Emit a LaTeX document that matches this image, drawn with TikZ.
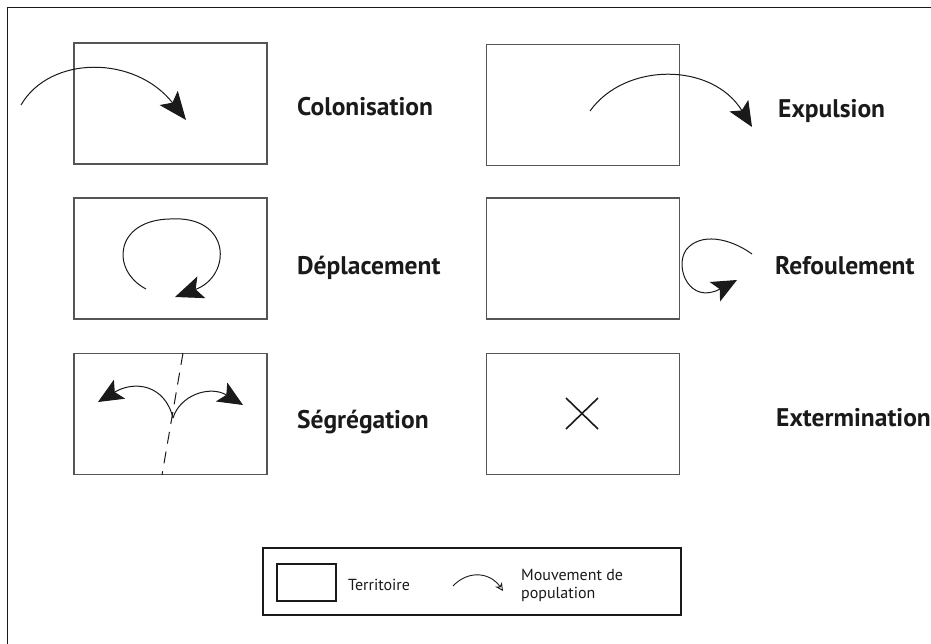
\documentclass[tikz,border=0pt]{standalone}
\usepackage{fontspec}
\setmainfont{PT Sans}
\usetikzlibrary{arrows.meta}
\definecolor{boxgrey}{HTML}{555555}
\definecolor{ink}{HTML}{1A1A1A}
\begin{document}
\begin{tikzpicture}[x=1pt,y=-1pt,
  terr/.style={draw=boxgrey,line width=1.3pt,minimum width=193pt,minimum height=121pt,inner sep=0pt},
  lab/.style={anchor=base west,inner sep=0pt,text=ink,font=\fontsize{25.5}{28}\selectfont\bfseries},
  move/.style={draw=ink,line width=1pt},
  bighead/.style={-{Stealth[length=28pt,width=23pt,inset=6pt]}},
  midhead/.style={-{Stealth[length=25pt,width=22pt,inset=5.5pt]}},
  legtext/.style={anchor=base west,inner sep=0pt,text=ink,font=\fontsize{16}{18}\selectfont}]
\useasboundingbox (0,0) rectangle (931,644);
\fill[white] (0,0) rectangle (931,644);
% outer frame
\draw[ink,line width=1.5pt] (7.5,650) -- (7.5,7.5) -- (940,7.5);

% territories
\node[terr] (b1) at (170.5,103.5) {};
\node[terr] (b2) at (583,105) {};
\node[terr] (b3) at (170.5,258.5) {};
\node[terr] (b4) at (583,258.5) {};
\node[terr] (b5) at (170.5,414) {};
\node[terr] (b6) at (583,414) {};

% labels
\node[lab] (l1) at (297,116) {Colonisation};
\node[lab] (l2) at (778,118) {Expulsion};
\node[lab] (l3) at (297,274) {Déplacement};
\node[lab] (l4) at (775,274) {Refoulement};
\node[lab] (l5) at (297,428) {Ségrégation};
\node[lab] (l6) at (776,426) {Extermination};

% colonisation
\draw[move,bighead] (21,105) .. controls (50,55) and (135,55) .. (186,120);
% expulsion
\draw[move,midhead] (590,111) .. controls (625,62) and (712,62) .. (752,127);
% deplacement
\draw[move,bighead] (146,289) .. controls (110,270) and (115,220) .. (170,219)
   .. controls (232,215) and (232,276) .. (175,297);
% refoulement
\draw[move,midhead] (752,254) .. controls (730,238) and (700,232) .. (686,250)
   .. controls (674,268) and (690,305) .. (737,280);
% segregation
\draw[ink,line width=1pt,dash pattern=on 12pt off 8pt] (183,353) -- (162,475);
\coordinate (j) at (173,418);
\draw[move,midhead] (j) .. controls (165,385) and (135,380) .. (98,402);
\draw[move,midhead] (j) .. controls (180,395) and (210,385) .. (243,405);
% extermination
\draw[ink,line width=1.6pt] (566,398) -- (598,429);
\draw[ink,line width=1.6pt] (598,398) -- (566,429);

% legend
\node[draw=ink,line width=1.2pt,minimum width=418pt,minimum height=67pt,inner sep=0pt] (leg) at (472,581.5) {};
\node[draw=ink,line width=1.1pt,minimum width=59pt,minimum height=37pt,inner sep=0pt] (lb) at (306.5,582.5) {};
\node[legtext] (lt) at (348,590) {Territoire};
\draw[ink,line width=0.9pt,-{Stealth[open,length=8pt,width=8pt,inset=2.5pt]}] (453,586) .. controls (468,570) and (490,572) .. (503,591);
\node[legtext] (lm1) at (521,580) {Mouvement de};
\node[legtext] (lm2) at (521,598) {population};
\end{tikzpicture}
\end{document}
